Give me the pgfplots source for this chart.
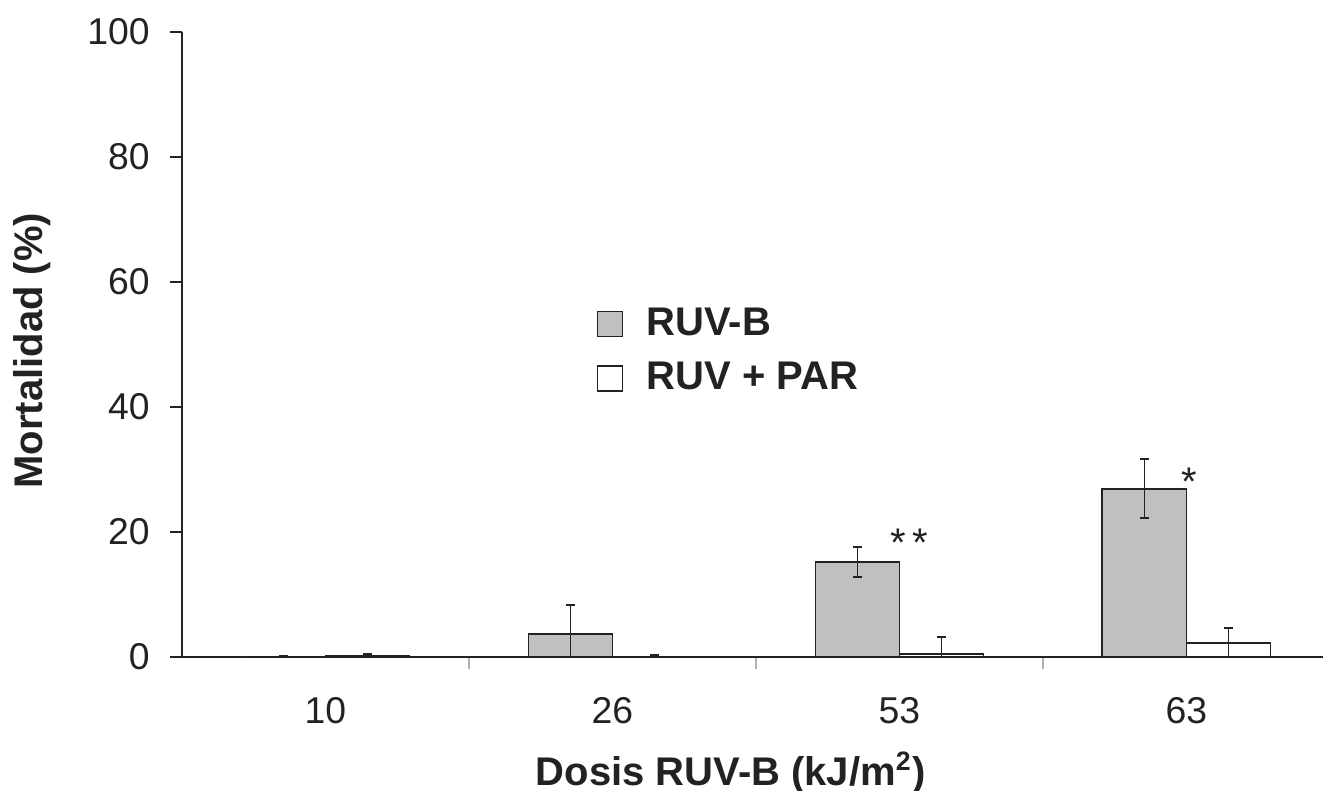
\documentclass[border=0pt]{standalone}
\usepackage{pgfplots}
\pgfplotsset{compat=1.18}
\usepackage{fontspec}
\setmainfont{Liberation Sans}
\definecolor{silver}{RGB}{192,192,192}
\definecolor{ink}{RGB}{34,34,34}
\begin{document}
\begin{tikzpicture}
\path[use as bounding box] (0,0) rectangle (396.9pt,237.3pt);
\begin{axis}[
  at={(54.6pt,40.2pt)}, anchor=south west,
  scale only axis, width=342.3pt, height=187.5pt,
  xmin=-0.5, xmax=3.476, ymin=0, ymax=100,
  ybar=0pt, bar width=0.293,
  axis x line*=bottom, axis y line*=left,
  axis line style={line width=0.8pt, ink},
  xtick={0,1,2,3}, xticklabels={10,26,53,63},
  minor xtick={0.5,1.5,2.5},
  extra x ticks={-0.5}, extra x tick labels={},
  extra x tick style={major tick length=4pt, tick style={ink, line width=0.8pt}},
  ytick={0,20,40,60,80,100},
  tick align=outside,
  major tick length=3.6pt, minor tick length=3.6pt,
  every major x tick/.append style={draw=none},
  every minor x tick/.append style={black!30, line width=0.5pt},
  every major y tick/.append style={ink, line width=0.6pt},
  tick label style={font=\fontsize{11.2}{13}\selectfont, text=ink},
  /pgf/number format/assume math mode=true,
  xticklabel style={yshift=-5.0pt},
  yticklabel style={xshift=-2.6pt},
  xlabel={Dosis RUV-B (kJ/m\textsuperscript{2})},
  ylabel={Mortalidad (\%)},
  label style={font=\bfseries\fontsize{12}{14}\selectfont, text=ink},
  xlabel style={at={(axis description cs:0.481,-0.205)}, anchor=base},
  ylabel style={at={(axis description cs:-0.122,0.49)}, anchor=base, rotate=0},
  legend style={at={(0.354,0.581)}, anchor=north west, draw=none, fill=none,
    font=\bfseries\fontsize{12}{14}\selectfont, text=ink, row sep=2.5pt,
    /tikz/every odd column/.append style={column sep=5pt}},
  legend image code/.code={\draw[#1, line width=0.5pt] (0pt,-3.75pt) rectangle (7.5pt,3.75pt);},
  legend cell align=left,
  error bars/error bar style={line width=0.5pt, ink},
  error bars/error mark options={rotate=90, mark size=1.4pt, line width=0.6pt, ink},
]
\addplot[fill=silver, draw=ink, line width=0.5pt,
  error bars/.cd, y dir=both, y explicit]
  coordinates {(0,0) +- (0,0.1) (1,3.7) +- (0,4.6) (2,15.2) +- (0,2.4) (3,26.9) +- (0,4.7)};
\addplot[fill=white, draw=ink, line width=0.5pt,
  error bars/.cd, y dir=both, y explicit]
  coordinates {(0,0.2) +- (0,0.2) (1,0.1) +- (0,0.2) (2,0.5) +- (0,2.7) (3,2.2) +- (0,2.4)};
\legend{RUV-B, RUV + PAR}
\node[anchor=north, inner sep=0pt, font=\fontsize{12}{14}\selectfont, text=ink] at (axis cs:2.035,20.6) {*\,*};
\node[anchor=north, inner sep=0pt, font=\fontsize{12}{14}\selectfont, text=ink] at (axis cs:3.009,30.4) {*};
\end{axis}
\end{tikzpicture}
\end{document}
